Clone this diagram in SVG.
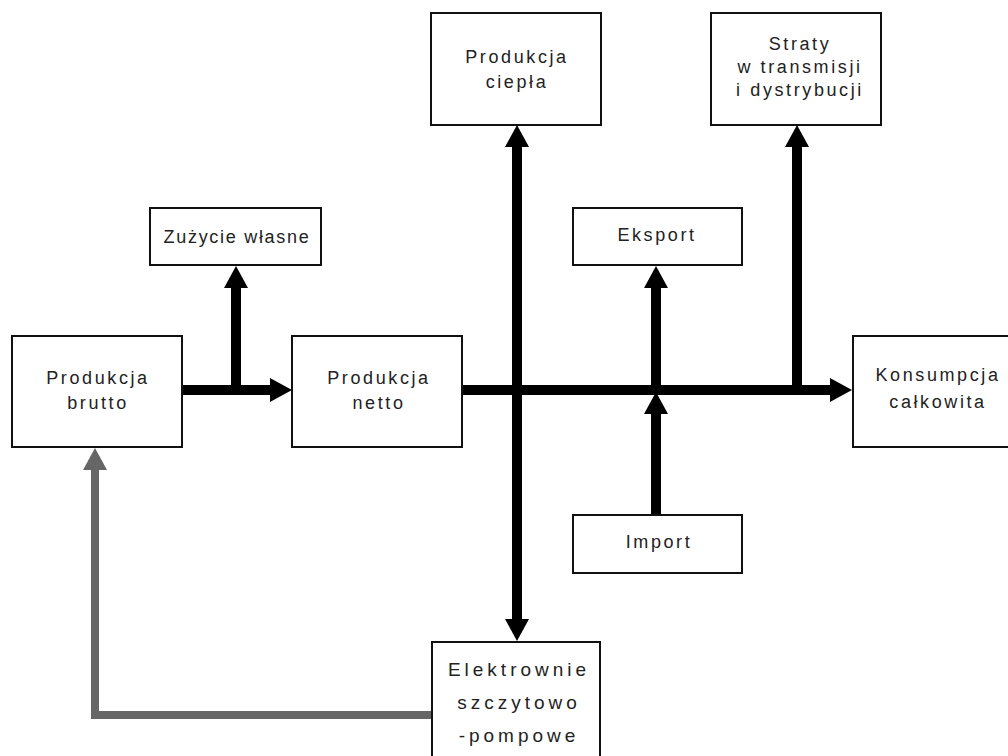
<svg xmlns="http://www.w3.org/2000/svg" width="1008" height="756" viewBox="0 0 1008 756">
  <style>
    .box { fill: #ffffff; stroke: #111111; stroke-width: 2; }
    .lbl { font-family: "Liberation Sans", Arial, sans-serif; font-size: 18px; fill: #222222; text-anchor: middle; letter-spacing: 2.6px; }
    .lbl-tight { letter-spacing: 1.7px; }
    .lbl-wide { font-size: 19px; letter-spacing: 4px; }
    .flow { fill: none; stroke: #000000; stroke-width: 10; }
    .back { fill: none; stroke: #666666; stroke-width: 8; }
  </style>
  <defs>
    <marker id="arrow" viewBox="0 -12 22 24" refX="0" refY="0" markerWidth="22" markerHeight="24" markerUnits="userSpaceOnUse" orient="auto-start-reverse">
      <path d="M0,-12 L22,0 L0,12 z" fill="#000000"/>
    </marker>
    <marker id="arrow-grey" viewBox="0 -12 22 24" refX="0" refY="0" markerWidth="22" markerHeight="24" markerUnits="userSpaceOnUse" orient="auto">
      <path d="M0,-12 L22,0 L0,12 z" fill="#666666"/>
    </marker>
  </defs>
  <rect width="1008" height="756" fill="#ffffff"/>

  <!-- energy flows: black main balance, grey return from pumped storage -->
  <g id="connectors">
    <path class="flow" d="M181,390 H270" marker-end="url(#arrow)"/>
    <path class="flow" d="M236,395 V288" marker-end="url(#arrow)"/>
    <path class="flow" d="M462,390 H830" marker-end="url(#arrow)"/>
    <path class="flow" d="M517,147 V619" marker-start="url(#arrow)" marker-end="url(#arrow)"/>
    <path class="flow" d="M656,395 V288" marker-end="url(#arrow)"/>
    <path class="flow" d="M656,515 V414" marker-end="url(#arrow)"/>
    <path class="flow" d="M797,395 V147" marker-end="url(#arrow)"/>
    <path class="back" d="M432,715 H95 V470" marker-end="url(#arrow-grey)"/>
  </g>

  <g id="produkcja-brutto">
    <rect class="box" x="12" y="336" width="170" height="111"/>
    <text class="lbl" x="98" y="384">Produkcja</text>
    <text class="lbl" x="98" y="409">brutto</text>
  </g>
  <g id="zuzycie-wlasne">
    <rect class="box" x="150" y="208" width="171" height="57"/>
    <text class="lbl lbl-tight" x="237" y="243">Zużycie własne</text>
  </g>
  <g id="produkcja-netto">
    <rect class="box" x="292" y="336" width="170" height="111"/>
    <text class="lbl" x="379" y="384">Produkcja</text>
    <text class="lbl" x="379" y="409">netto</text>
  </g>
  <g id="produkcja-ciepla">
    <rect class="box" x="431" y="13" width="170" height="112"/>
    <text class="lbl" x="517" y="63">Produkcja</text>
    <text class="lbl" x="517" y="88">ciepła</text>
  </g>
  <g id="straty">
    <rect class="box" x="711" y="13" width="170" height="112"/>
    <text class="lbl" x="800" y="50">Straty</text>
    <text class="lbl" x="800" y="73">w transmisji</text>
    <text class="lbl" x="800" y="96">i dystrybucji</text>
  </g>
  <g id="eksport">
    <rect class="box" x="573" y="208" width="169" height="57"/>
    <text class="lbl" x="657" y="241">Eksport</text>
  </g>
  <g id="konsumpcja">
    <rect class="box" x="853" y="336" width="170" height="111"/>
    <text class="lbl" x="938" y="381">Konsumpcja</text>
    <text class="lbl" x="938" y="408">całkowita</text>
  </g>
  <g id="import">
    <rect class="box" x="573" y="515" width="169" height="58"/>
    <text class="lbl" x="659" y="548">Import</text>
  </g>
  <g id="elektrownie">
    <rect class="box" x="432" y="642" width="168" height="120"/>
    <text class="lbl lbl-wide" x="519" y="676">Elektrownie</text>
    <text class="lbl lbl-wide" x="519" y="709">szczytowo</text>
    <text class="lbl lbl-wide" x="519" y="742">-pompowe</text>
  </g>
</svg>
